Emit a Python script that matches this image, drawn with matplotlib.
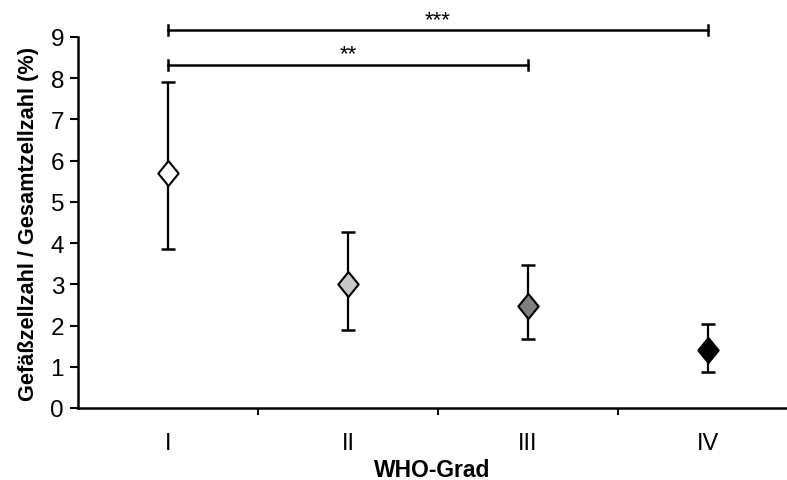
import matplotlib
matplotlib.use("Agg")
import matplotlib.pyplot as plt
import numpy as np

plt.rcParams['font.family'] = ['Liberation Sans', 'DejaVu Sans']

categories = ["I", "II", "III", "IV"]
means = [5.7, 3.0, 2.47, 1.4]
upper = [7.9, 4.28, 3.48, 2.03]
lower = [3.85, 1.9, 1.68, 0.88]
colors = ["#ffffff", "#c8c8c8", "#808080", "#000000"]
sig_pairs = [(1, 3, 8.33, "**"), (1, 4, 9.17, "***")]
yticks = list(range(0, 10))

fig = plt.figure(figsize=(7.87, 4.81), dpi=100)
ax = fig.add_axes([78/787, 72/481, (787-78)/787, (409-38)/481])

diamond = [(0, 1.23), (1, 0), (0, -1.23), (-1, 0), (0, 1.23)]
x = np.arange(1, len(categories) + 1)
for xi, m, u, l, c in zip(x, means, upper, lower, colors):
    ax.errorbar([xi], [m], yerr=[[m - l], [u - m]], fmt='none', ecolor='black',
                elinewidth=1.6, capsize=5, capthick=1.8, zorder=2)
    ax.plot([xi], [m], marker=diamond, markersize=18, markerfacecolor=c,
            markeredgecolor='black', markeredgewidth=1.5, linestyle='none', zorder=3)

for a, b, y, lab in sig_pairs:
    ax.plot([a, b], [y, y], color='black', lw=1.8, clip_on=False)
    for xx in (a, b):
        ax.plot([xx, xx], [y - 0.12, y + 0.12], color='black', lw=1.8, clip_on=False)
    ax.text((a + b) / 2, y + 0.0, lab, ha='center', va='bottom', fontsize=16, clip_on=False)

ax.set_xlim(0.5, 0.5 + 709/180)
ax.set_ylim(0, 9)
ax.set_yticks(yticks)
ax.set_xticks(x)
ax.set_xticklabels(categories)
ax.set_xticks([1.5, 2.5, 3.5], minor=True)
ax.tick_params(axis='x', which='major', length=0, pad=17, labelsize=17)
ax.tick_params(axis='x', which='minor', length=5, width=1.5, direction='out')
ax.tick_params(axis='y', length=6, width=1.5, direction='out', labelsize=17.5, pad=4)
for s in ['top', 'right']:
    ax.spines[s].set_visible(False)
for s in ['left', 'bottom']:
    ax.spines[s].set_linewidth(1.8)

ax.set_ylabel("Gefäßzellzahl / Gesamtzellzahl (%)", fontsize=15.7, fontweight='bold', labelpad=8)
ax.set_xlabel("WHO-Grad", fontsize=16.5, fontweight='bold', labelpad=3)

fig.savefig("out.png", dpi=100)
